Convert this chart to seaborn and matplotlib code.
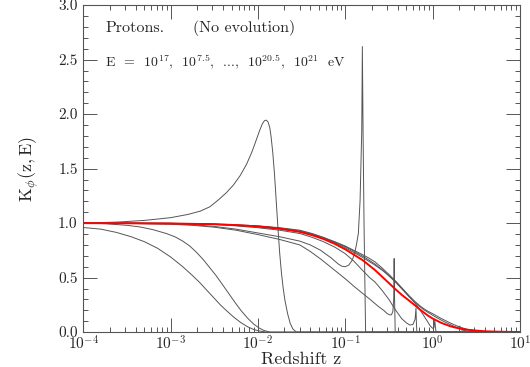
import numpy as np
import pandas as pd
import seaborn as sns
import matplotlib
matplotlib.use('Agg')
import matplotlib.pyplot as plt
from matplotlib.ticker import MultipleLocator, LogLocator, NullFormatter

# curves: log10(z) and K_phi
lz_a = [-4, -3.8, -3.62, -3.45, -3.3, -3.15, -3.0, -2.86, -2.75, -2.66, -2.58, -2.51, -2.43, -2.35,
        -2.28, -2.2, -2.12, -2.05, -1.98, -1.9, 1]
k_a = [0.96, 0.945, 0.915, 0.875, 0.83, 0.77, 0.69, 0.6, 0.52, 0.45, 0.38, 0.32, 0.25, 0.19,
       0.14, 0.09, 0.05, 0.025, 0.01, 0.0, 0.0]

lz_b = [-4, -3.75, -3.5, -3.35, -3.2, -3.05, -2.95, -2.86, -2.78, -2.7, -2.62, -2.55, -2.48, -2.4,
        -2.33, -2.26, -2.19, -2.12, -2.05, -1.99, -1.93, -1.86, 1]
k_b = [1.0, 0.995, 0.98, 0.965, 0.94, 0.905, 0.875, 0.835, 0.79, 0.73, 0.66, 0.59, 0.52, 0.43,
       0.35, 0.27, 0.195, 0.13, 0.075, 0.04, 0.015, 0.0, 0.0]

lz_c = [-4, -3.6, -3.3, -3.0, -2.8, -2.66, -2.55, -2.45, -2.36, -2.28, -2.2, -2.13, -2.07, -2.02,
        -1.98, -1.95, -1.925, -1.905, -1.885, -1.865, -1.85, -1.83, -1.81, -1.79, -1.77, -1.75,
        -1.73, -1.71, -1.69, -1.66, -1.63, -1.6, -1.56, 1]
k_c = [1.0, 1.01, 1.025, 1.05, 1.08, 1.11, 1.15, 1.215, 1.28, 1.35, 1.44, 1.54, 1.65, 1.76,
       1.85, 1.91, 1.94, 1.945, 1.93, 1.88, 1.8, 1.65, 1.45, 1.2, 0.95, 0.72,
       0.54, 0.40, 0.29, 0.17, 0.08, 0.03, 0.0, 0.0]

lz_d = [-4, -3.5, -3, -2.75, -2.5, -2.25, -2.0, -1.75, -1.52, -1.4, -1.28, -1.16, -1.08, -1.04,
        -1.0, -0.96, -0.92, -0.89, -0.87, -0.85, -0.83, -0.811, -0.804, -0.796, -0.785, -0.767, 1]
k_d = [1.0, 0.998, 0.993, 0.985, 0.97, 0.945, 0.91, 0.875, 0.835, 0.8, 0.75, 0.68, 0.625, 0.605,
       0.6, 0.615, 0.66, 0.73, 0.81, 0.905, 1.21, 1.85, 2.62, 1.85, 1.0, 0.0, 0.0]

lz_e = [-4, -3.5, -3, -2.75, -2.5, -2.25, -2, -1.75, -1.52, -1.4, -1.28, -1.14, -1.0, -0.9, -0.8,
        -0.7, -0.62, -0.56, -0.52, -0.49, -0.47, -0.455, -0.445, -0.44, -0.435, -0.428, 1]
k_e = [1.0, 0.997, 0.99, 0.98, 0.963, 0.935, 0.895, 0.85, 0.80, 0.74, 0.67, 0.58, 0.49, 0.42, 0.355,
       0.29, 0.235, 0.2, 0.17, 0.158, 0.16, 0.19, 0.3, 0.675, 0.3, 0.0, 0.0]

lz_f = [-4, -3, -2.5, -2.25, -2, -1.75, -1.52, -1.38, -1.25, -1.12, -1.0, -0.9, -0.8, -0.72, -0.66,
        -0.58, -0.5, -0.43, -0.355, -0.3, -0.26, -0.225, -0.2, -0.19, -0.186, -0.18, 1]
k_f = [1.0, 0.997, 0.988, 0.975, 0.958, 0.935, 0.905, 0.87, 0.83, 0.78, 0.72, 0.65, 0.565, 0.5, 0.46,
       0.385, 0.30, 0.21, 0.125, 0.085, 0.065, 0.07, 0.12, 0.22, 0.1, 0.0, 0.0]

lz_g = [-4, -3, -2.5, -2.25, -2, -1.75, -1.52, -1.38, -1.25, -1.12, -1.0, -0.9, -0.8, -0.66, -0.58,
        -0.5, -0.42, -0.35, -0.27, -0.2, -0.14, -0.1, -0.06, -0.03, 0.0, 0.015, 0.025, 0.032, 0.04, 1]
k_g = [1.0, 0.997, 0.99, 0.98, 0.965, 0.945, 0.922, 0.895, 0.86, 0.82, 0.775, 0.73, 0.685, 0.615, 0.57,
       0.52, 0.46, 0.40, 0.33, 0.265, 0.2, 0.15, 0.1, 0.06, 0.035, 0.04, 0.11, 0.05, 0.0, 0.0]

lz_h1 = [-4, -3, -2.5, -2.25, -2, -1.75, -1.52, -1.38, -1.25, -1.12, -1.0, -0.9, -0.8, -0.73, -0.66,
         -0.58, -0.5, -0.42, -0.35, -0.27, -0.2, -0.15, -0.1, -0.05, 0, 0.05, 0.1, 0.15, 0.2, 0.25,
         0.3, 0.35, 0.4, 0.5, 0.6, 0.8, 1]
k_h1 = [1.0, 0.998, 0.992, 0.985, 0.975, 0.958, 0.935, 0.905, 0.87, 0.83, 0.79, 0.75, 0.71, 0.68, 0.645,
        0.59, 0.53, 0.465, 0.405, 0.335, 0.28, 0.245, 0.215, 0.19, 0.17, 0.147, 0.125, 0.105, 0.085, 0.067,
        0.05, 0.037, 0.025, 0.012, 0.005, 0.0, 0.0]

lz_h2 = [-4, -3, -2.5, -2.25, -2, -1.75, -1.52, -1.38, -1.25, -1.12, -1.0, -0.9, -0.8, -0.73, -0.66,
         -0.58, -0.5, -0.42, -0.35, -0.27, -0.2, -0.15, -0.1, -0.05, 0, 0.05, 0.1, 0.15, 0.2, 0.25,
         0.28, 0.31, 0.33, 0.4, 0.5, 0.6, 1]
k_h2 = [1.0, 0.998, 0.99, 0.982, 0.972, 0.954, 0.93, 0.9, 0.865, 0.825, 0.785, 0.742, 0.697, 0.662, 0.625,
        0.575, 0.515, 0.455, 0.395, 0.325, 0.27, 0.235, 0.205, 0.18, 0.155, 0.132, 0.11, 0.09, 0.07, 0.052,
        0.042, 0.055, 0.02, 0.01, 0.006, 0.003, 0.0]

lz_red = [-4, -3.5, -3, -2.5, -2.25, -2, -1.75, -1.52, -1.38, -1.25, -1.12, -1.0, -0.9, -0.8, -0.73,
          -0.66, -0.58, -0.5, -0.42, -0.35, -0.27, -0.2, -0.15, -0.1, -0.05, 0, 0.05, 0.1, 0.15, 0.2,
          0.25, 0.3, 0.4, 0.5, 0.6, 0.75, 0.9, 1]
k_red = [1.0, 0.999, 0.997, 0.99, 0.982, 0.97, 0.95, 0.92, 0.89, 0.855, 0.81, 0.76, 0.71, 0.66, 0.615,
         0.57, 0.51, 0.45, 0.39, 0.34, 0.29, 0.245, 0.21, 0.18, 0.15, 0.125, 0.105, 0.085, 0.07, 0.055,
         0.044, 0.035, 0.022, 0.014, 0.008, 0.004, 0.002, 0.001]

gray = {'a': (lz_a, k_a), 'b': (lz_b, k_b), 'c': (lz_c, k_c), 'd': (lz_d, k_d), 'e': (lz_e, k_e),
        'f': (lz_f, k_f), 'g': (lz_g, k_g), 'h1': (lz_h1, k_h1), 'h2': (lz_h2, k_h2)}

rows = []
for name, (lz, k) in gray.items():
    for x, y in zip(lz, k):
        rows.append((name, 10.0 ** x, y))
df = pd.DataFrame(rows, columns=['curve', 'z', 'K'])
df_red = pd.DataFrame({'z': 10.0 ** np.array(lz_red), 'K': k_red})

sns.set_style('ticks')
plt.rcParams['font.family'] = ['cmr10', 'DejaVu Serif']
plt.rcParams['mathtext.fontset'] = 'cm'
plt.rcParams['axes.formatter.use_mathtext'] = True

fig, ax = plt.subplots(figsize=(5.3, 3.67), dpi=100)
fig.subplots_adjust(left=0.157, right=0.981, top=0.986, bottom=0.095)

pal = {n: '#555555' for n in gray}
sns.lineplot(data=df, x='z', y='K', hue='curve', palette=pal, estimator=None, sort=False,
             legend=False, linewidth=0.7, ax=ax)
sns.lineplot(data=df_red, x='z', y='K', color='#ff0000', estimator=None, sort=False,
             linewidth=1.4, ax=ax)

ax.set_xscale('log')
ax.set_xlim(1e-4, 1e1)
ax.set_ylim(0, 3)
ax.xaxis.set_major_locator(LogLocator(base=10, numticks=10))
ax.xaxis.set_minor_locator(LogLocator(base=10, subs=np.arange(2, 10), numticks=20))
ax.xaxis.set_minor_formatter(NullFormatter())
ax.yaxis.set_major_locator(MultipleLocator(0.5))
ax.yaxis.set_minor_locator(MultipleLocator(0.1))
ax.yaxis.set_major_formatter(plt.FuncFormatter(lambda v, p: '%.1f' % v))

for s in ax.spines.values():
    s.set_visible(True)
    s.set_color('#555555')
    s.set_linewidth(0.8)
ax.tick_params(which='both', direction='in', top=True, right=True, color='#555555', width=0.7)
ax.tick_params(which='major', length=10, labelsize=11)
ax.tick_params(axis='x', which='major', pad=2)
ax.tick_params(axis='y', which='major', pad=4)
ax.tick_params(which='minor', length=3.5)

ax.set_xlabel('Redshift z', fontsize=13, labelpad=-1)
ax.set_ylabel(r'$\mathrm{K}_{\phi}(\mathrm{z,E})$', fontsize=13, labelpad=12)

ax.text(0.05, 0.93, 'Protons.', transform=ax.transAxes, fontsize=11.5, va='center')
ax.text(0.252, 0.93, '(No evolution)', transform=ax.transAxes, fontsize=11.5, va='center')
ax.text(0.05, 0.826, r'E  =  $10^{17}$,  $10^{7.5}$,  ...,  $10^{20.5}$,  $10^{21}$  eV',
        transform=ax.transAxes, fontsize=10, va='center')

fig.savefig('out.png', dpi=100)
